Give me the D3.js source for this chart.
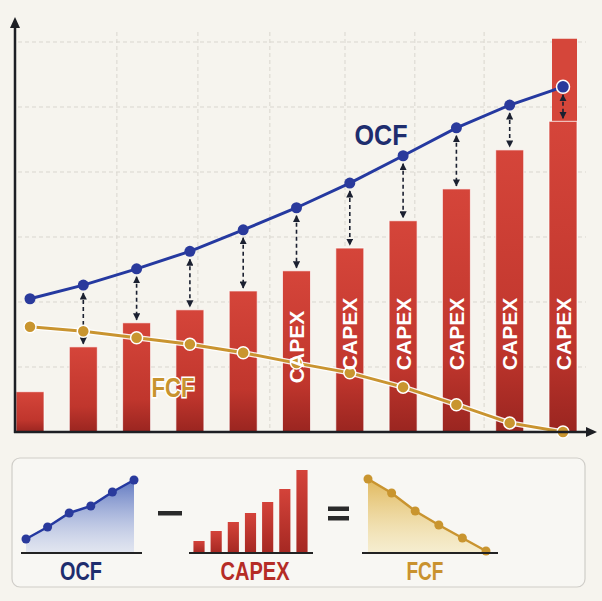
<!DOCTYPE html>
<html>
<head>
<meta charset="utf-8">
<script src="https://cdn.jsdelivr.net/npm/d3@7"></script>
<style>
  html, body { margin: 0; padding: 0; background: #f6f4ee; }
  svg { display: block; font-family: "Liberation Sans", Arial, sans-serif; }
</style>
</head>
<body>
<div id="chart"></div>
<script>
// main chart data (values in grid units, 1 unit = one gridline)
const periods = [1, 2, 3, 4, 5, 6, 7, 8, 9, 10, 11];
const ocf   = [2.05, 2.26, 2.51, 2.78, 3.11, 3.45, 3.83, 4.25, 4.68, 5.03, 5.31];
const capex = [0.62, 1.31, 1.68, 1.88, 2.17, 2.48, 2.83, 3.25, 3.74, 4.34, 4.78];
const fcf   = [1.62, 1.55, 1.45, 1.35, 1.22, 1.06, 0.91, 0.69, 0.42, 0.14, 0.0];
const lastBarTop = 6.05;
const gridValues = [1, 2, 3, 4, 5, 6];
const gridPeriods = [2.63, 4.15, 5.5, 6.91, 8.22, 9.52];

// mini legend data
const miniOcf   = [14, 26, 40, 47, 61, 73];
const miniCapex = [12, 22, 31, 40, 51, 64, 83];
const miniFcf   = [74, 60, 42, 28, 15, 2];

const svgWidth = 602, svgHeight = 601;
const baseY = 432, axisX = 15;

const svg = d3.select('#chart').append('svg')
  .attr('width', svgWidth)
  .attr('height', svgHeight);

svg.append('rect').attr('width', svgWidth).attr('height', svgHeight).attr('fill', '#f6f4ee');

const defs = svg.append('defs');

const barGrad = defs.append('linearGradient').attr('id', 'barGrad')
  .attr('x1', 0).attr('y1', 0).attr('x2', 0).attr('y2', 1);
barGrad.append('stop').attr('offset', '0%').attr('stop-color', '#d5453a');
barGrad.append('stop').attr('offset', '70%').attr('stop-color', '#c0362d');
barGrad.append('stop').attr('offset', '100%').attr('stop-color', '#9a2520');

const blueArea = defs.append('linearGradient').attr('id', 'blueArea')
  .attr('x1', 0).attr('y1', 0).attr('x2', 0).attr('y2', 1);
blueArea.append('stop').attr('offset', '0%').attr('stop-color', '#4662b8').attr('stop-opacity', 0.85);
blueArea.append('stop').attr('offset', '100%').attr('stop-color', '#b9c6ea').attr('stop-opacity', 0.35);

const goldArea = defs.append('linearGradient').attr('id', 'goldArea')
  .attr('x1', 0).attr('y1', 0).attr('x2', 0).attr('y2', 1);
goldArea.append('stop').attr('offset', '0%').attr('stop-color', '#deb14c').attr('stop-opacity', 0.9);
goldArea.append('stop').attr('offset', '100%').attr('stop-color', '#f3e2a6').attr('stop-opacity', 0.45);

const miniBarGrad = defs.append('linearGradient').attr('id', 'miniBarGrad')
  .attr('x1', 0).attr('y1', 0).attr('x2', 0).attr('y2', 1);
miniBarGrad.append('stop').attr('offset', '0%').attr('stop-color', '#d4433a');
miniBarGrad.append('stop').attr('offset', '100%').attr('stop-color', '#a52822');

defs.append('marker').attr('id', 'arrowHead')
  .attr('viewBox', '0 0 10 10').attr('refX', 9).attr('refY', 5)
  .attr('markerWidth', 4.5).attr('markerHeight', 4.5)
  .attr('markerUnits', 'strokeWidth')
  .attr('orient', 'auto-start-reverse')
  .append('path').attr('d', 'M0,0 L10,5 L0,10 Z').attr('fill', '#1b2030');

// scales
const x = d3.scaleLinear().domain([1, 11]).range([30, 563]);
const y = d3.scaleLinear().domain([0, 6]).range([baseY, 42]);
const barW = 28;

// grid
svg.append('g').selectAll('line')
  .data(gridValues).enter().append('line')
  .attr('x1', 18).attr('x2', 586)
  .attr('y1', d => y(d)).attr('y2', d => y(d))
  .attr('stroke', '#d9d6cf').attr('stroke-width', 1).attr('stroke-dasharray', '4,3');

svg.append('g').selectAll('line')
  .data(gridPeriods).enter().append('line')
  .attr('x1', d => x(d)).attr('x2', d => x(d))
  .attr('y1', 32).attr('y2', baseY)
  .attr('stroke', '#d9d6cf').attr('stroke-width', 1).attr('stroke-dasharray', '4,3');

// bars
const bars = svg.append('g');
// top part of last bar (capex overshooting)
bars.append('rect')
  .attr('x', x(11) - barW / 2 + 3)
  .attr('y', y(lastBarTop))
  .attr('width', barW - 3)
  .attr('height', y(capex[10]) - y(lastBarTop))
  .attr('fill', '#d5463a');

bars.selectAll('rect.bar')
  .data(capex).enter().append('rect')
  .attr('class', 'bar')
  .attr('x', (d, i) => x(periods[i]) - barW / 2)
  .attr('y', d => y(d))
  .attr('width', barW)
  .attr('height', d => baseY - y(d))
  .attr('fill', 'url(#barGrad)')
  .attr('stroke', 'rgba(255,255,255,0.7)')
  .attr('stroke-width', 1);

// OCF line
const line = d3.line().x((d, i) => x(periods[i])).y(d => y(d));
svg.append('path').datum(ocf)
  .attr('d', line).attr('fill', 'none')
  .attr('stroke', '#2539a0').attr('stroke-width', 3);

// FCF line with white halo
svg.append('path').datum(fcf)
  .attr('d', line).attr('fill', 'none')
  .attr('stroke', '#ffffff').attr('stroke-width', 5.5).attr('stroke-opacity', 0.9);
svg.append('path').datum(fcf)
  .attr('d', line).attr('fill', 'none')
  .attr('stroke', '#c99430').attr('stroke-width', 3);

// difference arrows
svg.append('g').selectAll('line')
  .data(periods.slice(1)).enter().append('line')
  .attr('x1', d => x(d)).attr('x2', d => x(d))
  .attr('y1', d => y(ocf[d - 1]) + 8)
  .attr('y2', d => y(capex[d - 1]) - 3)
  .attr('stroke', '#1b2030').attr('stroke-width', 1.6)
  .attr('stroke-dasharray', '4,3')
  .attr('marker-start', 'url(#arrowHead)')
  .attr('marker-end', 'url(#arrowHead)');

// points
svg.append('g').selectAll('circle')
  .data(fcf).enter().append('circle')
  .attr('cx', (d, i) => x(periods[i])).attr('cy', d => y(d))
  .attr('r', 6).attr('fill', '#c9952f')
  .attr('stroke', '#ffffff').attr('stroke-width', 1.5);

svg.append('g').selectAll('circle')
  .data(ocf).enter().append('circle')
  .attr('cx', (d, i) => x(periods[i])).attr('cy', d => y(d))
  .attr('r', (d, i) => i === 10 ? 6.5 : 5.5)
  .attr('fill', '#2a3a9c')
  .attr('stroke', (d, i) => i === 10 ? '#ffffff' : 'none')
  .attr('stroke-width', 1.5);

// CAPEX labels inside bars
svg.append('g').selectAll('text')
  .data(periods.slice(5)).enter().append('text')
  .attr('transform', d => `translate(${x(d) + 7.5}, ${d === 6 ? 347 : 334}) rotate(-90)`)
  .attr('text-anchor', 'middle')
  .attr('font-size', 21).attr('font-weight', 'bold')
  .attr('fill', '#ffffff')
  .text('CAPEX');

// series labels
svg.append('text')
  .attr('x', 381).attr('y', 145)
  .attr('text-anchor', 'middle')
  .attr('font-size', 30).attr('font-weight', 'bold')
  .attr('fill', '#1e2d6e')
  .attr('textLength', 53).attr('lengthAdjust', 'spacingAndGlyphs')
  .text('OCF');

svg.append('text')
  .attr('x', 173).attr('y', 397)
  .attr('text-anchor', 'middle')
  .attr('font-size', 28).attr('font-weight', 'bold')
  .attr('fill', '#c8932e')
  .attr('stroke', '#ffffff').attr('stroke-width', 3).attr('paint-order', 'stroke')
  .attr('textLength', 43).attr('lengthAdjust', 'spacingAndGlyphs')
  .text('FCF');

// axes
const axisColor = '#1d1f24';
svg.append('line').attr('x1', axisX).attr('x2', axisX).attr('y1', baseY + 1).attr('y2', 26)
  .attr('stroke', axisColor).attr('stroke-width', 2.5);
svg.append('path').attr('d', `M${axisX},17 L${axisX - 5},28 L${axisX + 5},28 Z`).attr('fill', axisColor);
svg.append('line').attr('x1', axisX - 1).attr('x2', 588).attr('y1', baseY).attr('y2', baseY)
  .attr('stroke', axisColor).attr('stroke-width', 2.5);
svg.append('path').attr('d', `M597,${baseY} L586,${baseY - 5} L586,${baseY + 5} Z`).attr('fill', axisColor);

// ---- legend panel ----
const panel = svg.append('g');
panel.append('rect')
  .attr('x', 12).attr('y', 458).attr('width', 573).attr('height', 129).attr('rx', 8)
  .attr('fill', '#f8f7f3').attr('stroke', '#cfcdc8').attr('stroke-width', 1.2);

const miniBase = 553;
const my = d3.scaleLinear().domain([0, 80]).range([miniBase, miniBase - 80]);

// mini OCF
const mxO = d3.scalePoint().domain(d3.range(miniOcf.length)).range([26, 134]);
panel.append('path').datum(miniOcf)
  .attr('d', d3.area().x((d, i) => mxO(i)).y0(miniBase).y1(d => my(d)))
  .attr('fill', 'url(#blueArea)');
panel.append('path').datum(miniOcf)
  .attr('d', d3.line().x((d, i) => mxO(i)).y(d => my(d)))
  .attr('fill', 'none').attr('stroke', '#2539a0').attr('stroke-width', 2.5);
panel.append('g').selectAll('circle').data(miniOcf).enter().append('circle')
  .attr('cx', (d, i) => mxO(i)).attr('cy', d => my(d)).attr('r', 4.5).attr('fill', '#2a3a9c');

// mini CAPEX
const mxC = d3.scaleBand().domain(d3.range(miniCapex.length)).range([190, 311])
  .paddingInner(0.35).paddingOuter(0.2);
panel.append('g').selectAll('rect').data(miniCapex).enter().append('rect')
  .attr('x', (d, i) => mxC(i)).attr('y', d => my(d))
  .attr('width', mxC.bandwidth()).attr('height', d => miniBase - my(d))
  .attr('fill', 'url(#miniBarGrad)');

// mini FCF
const mxF = d3.scalePoint().domain(d3.range(miniFcf.length)).range([368, 486]);
panel.append('path').datum(miniFcf)
  .attr('d', d3.area().x((d, i) => mxF(i)).y0(miniBase).y1(d => my(d)))
  .attr('fill', 'url(#goldArea)');
panel.append('path').datum(miniFcf)
  .attr('d', d3.line().x((d, i) => mxF(i)).y(d => my(d)))
  .attr('fill', 'none').attr('stroke', '#c99430').attr('stroke-width', 2.5);
panel.append('g').selectAll('circle').data(miniFcf).enter().append('circle')
  .attr('cx', (d, i) => mxF(i)).attr('cy', d => my(d)).attr('r', 4.5).attr('fill', '#c9952f');

// baselines
[[21, 142], [189, 313], [362, 498]].forEach(([a, b]) => {
  panel.append('line').attr('x1', a).attr('x2', b).attr('y1', miniBase).attr('y2', miniBase)
    .attr('stroke', '#222').attr('stroke-width', 2);
});

// operators
panel.append('rect').attr('x', 158).attr('y', 511).attr('width', 24).attr('height', 4.5).attr('fill', '#2a2a2a');
panel.append('rect').attr('x', 328).attr('y', 506.5).attr('width', 21).attr('height', 4.5).attr('fill', '#2a2a2a');
panel.append('rect').attr('x', 328).attr('y', 516).attr('width', 21).attr('height', 4.5).attr('fill', '#2a2a2a');

// labels
const legendLabels = [
  { text: 'OCF', cx: 81, len: 42, color: '#1e2d6e' },
  { text: 'CAPEX', cx: 255, len: 69, color: '#b52c26' },
  { text: 'FCF', cx: 425, len: 37, color: '#c9922f' }
];
panel.selectAll('text.lbl').data(legendLabels).enter().append('text')
  .attr('class', 'lbl')
  .attr('x', d => d.cx).attr('y', 580)
  .attr('text-anchor', 'middle')
  .attr('font-size', 25).attr('font-weight', 'bold')
  .attr('fill', d => d.color)
  .attr('textLength', d => d.len).attr('lengthAdjust', 'spacingAndGlyphs')
  .text(d => d.text);
</script>
</body>
</html>
